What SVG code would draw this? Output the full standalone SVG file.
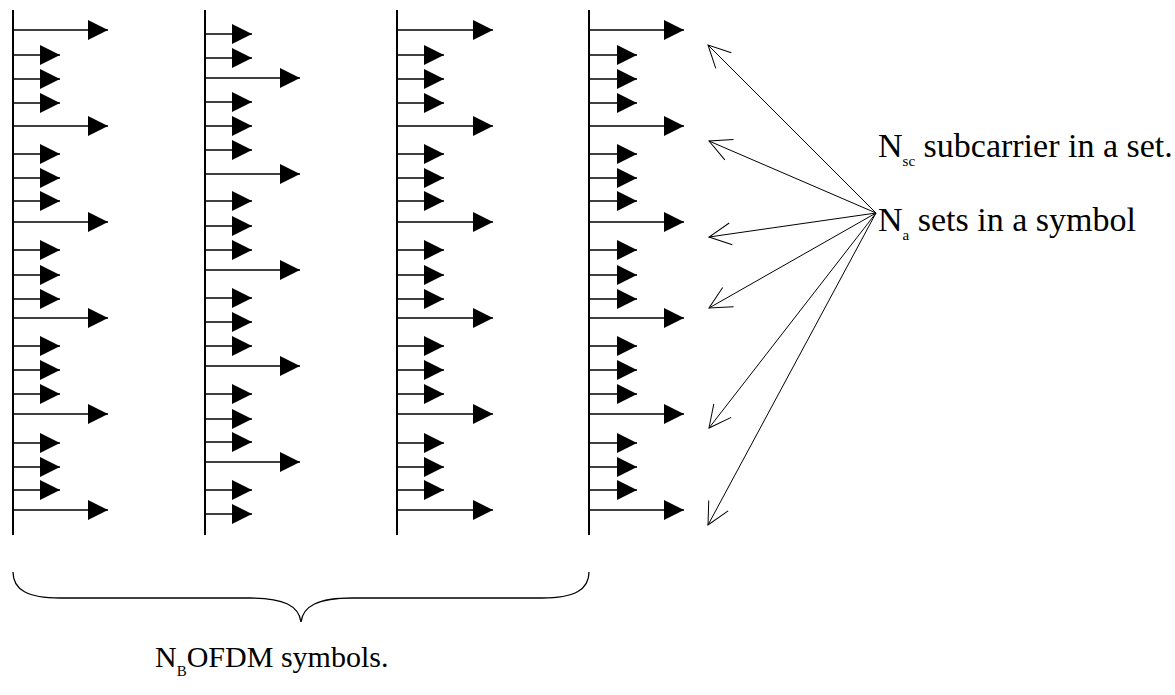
<svg xmlns="http://www.w3.org/2000/svg" width="1175" height="695" viewBox="0 0 1175 695">
<style>
.stem{stroke:#000;stroke-width:2;fill:none}
.sc{stroke:#000;stroke-width:1.4;fill:none;marker-end:url(#tri)}
.fan{stroke:#000;stroke-width:1;fill:none;marker-end:url(#open)}
.brace{stroke:#000;stroke-width:1.3;fill:none}
</style>
<defs>
<marker id="tri" markerUnits="userSpaceOnUse" markerWidth="22" markerHeight="22" refX="20" refY="10" orient="auto" overflow="visible">
<path d="M0,0 L20,10 L0,20 Z" fill="#000"/>
</marker>
<marker id="open" markerUnits="userSpaceOnUse" markerWidth="30" markerHeight="30" refX="24" refY="12" orient="auto" overflow="visible">
<path d="M2,1 L24,12 L2,23" fill="none" stroke="#000" stroke-width="1"/>
</marker>
</defs>
<rect width="1175" height="695" fill="#fff"/>
<g id="symbol1">
<line class="stem" x1="13" y1="10" x2="13" y2="535"/>
<path class="sc" d="M13,30H108"/><path class="sc" d="M13,55H60"/><path class="sc" d="M13,79H60"/><path class="sc" d="M13,103H60"/>
<path class="sc" d="M13,126H108"/><path class="sc" d="M13,154H60"/><path class="sc" d="M13,178H60"/><path class="sc" d="M13,201H60"/>
<path class="sc" d="M13,222H108"/><path class="sc" d="M13,250H60"/><path class="sc" d="M13,275H60"/><path class="sc" d="M13,299H60"/>
<path class="sc" d="M13,318H108"/><path class="sc" d="M13,346H60"/><path class="sc" d="M13,370H60"/><path class="sc" d="M13,394H60"/>
<path class="sc" d="M13,414H108"/><path class="sc" d="M13,443H60"/><path class="sc" d="M13,467H60"/><path class="sc" d="M13,490H60"/>
<path class="sc" d="M13,510H108"/>
</g>
<g id="symbol2">
<line class="stem" x1="205" y1="10" x2="205" y2="535"/>
<path class="sc" d="M205,34H252"/><path class="sc" d="M205,58H252"/>
<path class="sc" d="M205,78H300"/><path class="sc" d="M205,102H252"/><path class="sc" d="M205,126H252"/><path class="sc" d="M205,150H252"/>
<path class="sc" d="M205,174H300"/><path class="sc" d="M205,201H252"/><path class="sc" d="M205,226H252"/><path class="sc" d="M205,250H252"/>
<path class="sc" d="M205,270H300"/><path class="sc" d="M205,298H252"/><path class="sc" d="M205,322H252"/><path class="sc" d="M205,346H252"/>
<path class="sc" d="M205,366H300"/><path class="sc" d="M205,394H252"/><path class="sc" d="M205,419H252"/><path class="sc" d="M205,442H252"/>
<path class="sc" d="M205,462H300"/><path class="sc" d="M205,490H252"/><path class="sc" d="M205,514H252"/>
</g>
<g id="symbol3">
<line class="stem" x1="397" y1="10" x2="397" y2="535"/>
<path class="sc" d="M397,30H493"/><path class="sc" d="M397,55H444"/><path class="sc" d="M397,79H444"/><path class="sc" d="M397,103H444"/>
<path class="sc" d="M397,126H493"/><path class="sc" d="M397,154H444"/><path class="sc" d="M397,178H444"/><path class="sc" d="M397,201H444"/>
<path class="sc" d="M397,222H493"/><path class="sc" d="M397,250H444"/><path class="sc" d="M397,275H444"/><path class="sc" d="M397,299H444"/>
<path class="sc" d="M397,318H493"/><path class="sc" d="M397,346H444"/><path class="sc" d="M397,370H444"/><path class="sc" d="M397,394H444"/>
<path class="sc" d="M397,414H493"/><path class="sc" d="M397,443H444"/><path class="sc" d="M397,467H444"/><path class="sc" d="M397,490H444"/>
<path class="sc" d="M397,510H493"/>
</g>
<g id="symbol4">
<line class="stem" x1="589" y1="10" x2="589" y2="535"/>
<path class="sc" d="M589,30H684"/><path class="sc" d="M589,55H637"/><path class="sc" d="M589,79H637"/><path class="sc" d="M589,103H637"/>
<path class="sc" d="M589,126H684"/><path class="sc" d="M589,154H637"/><path class="sc" d="M589,178H637"/><path class="sc" d="M589,201H637"/>
<path class="sc" d="M589,222H684"/><path class="sc" d="M589,250H637"/><path class="sc" d="M589,275H637"/><path class="sc" d="M589,299H637"/>
<path class="sc" d="M589,318H684"/><path class="sc" d="M589,346H637"/><path class="sc" d="M589,370H637"/><path class="sc" d="M589,394H637"/>
<path class="sc" d="M589,414H684"/><path class="sc" d="M589,443H637"/><path class="sc" d="M589,467H637"/><path class="sc" d="M589,490H637"/>
<path class="sc" d="M589,510H684"/>
</g>
<g id="connectors">
<line class="fan" x1="876" y1="213" x2="708" y2="45"/>
<line class="fan" x1="876" y1="213" x2="709" y2="141"/>
<line class="fan" x1="876" y1="213" x2="709" y2="237"/>
<line class="fan" x1="876" y1="213" x2="709" y2="308"/>
<line class="fan" x1="876" y1="213" x2="709" y2="428"/>
<line class="fan" x1="876" y1="213" x2="708" y2="525"/>
</g>
<g id="brace">
<path class="brace" d="M13,572 C13,590 28,598 60,598 L250,598 C284,598 299,606 301,622 C303,606 318,598 352,598 L542,598 C574,598 589,590 589,572"/>
</g>
<g id="label-nsc" font-family="Liberation Serif, Times New Roman, serif" font-size="34" fill="#000">
<text x="878" y="157">N<tspan font-size="15" dy="9">sc</tspan><tspan dy="-9"> subcarrier in a set.</tspan></text>
</g>
<g id="label-na" font-family="Liberation Serif, Times New Roman, serif" font-size="34" fill="#000">
<text x="878" y="231">N<tspan font-size="15" dy="9">a</tspan><tspan dy="-9"> sets in a symbol</tspan></text>
</g>
<g id="label-nb" font-family="Liberation Serif, Times New Roman, serif" font-size="30" fill="#000">
<text x="155" y="667">N<tspan font-size="15" dy="9">B</tspan><tspan dy="-9">OFDM symbols.</tspan></text>
</g>
</svg>
